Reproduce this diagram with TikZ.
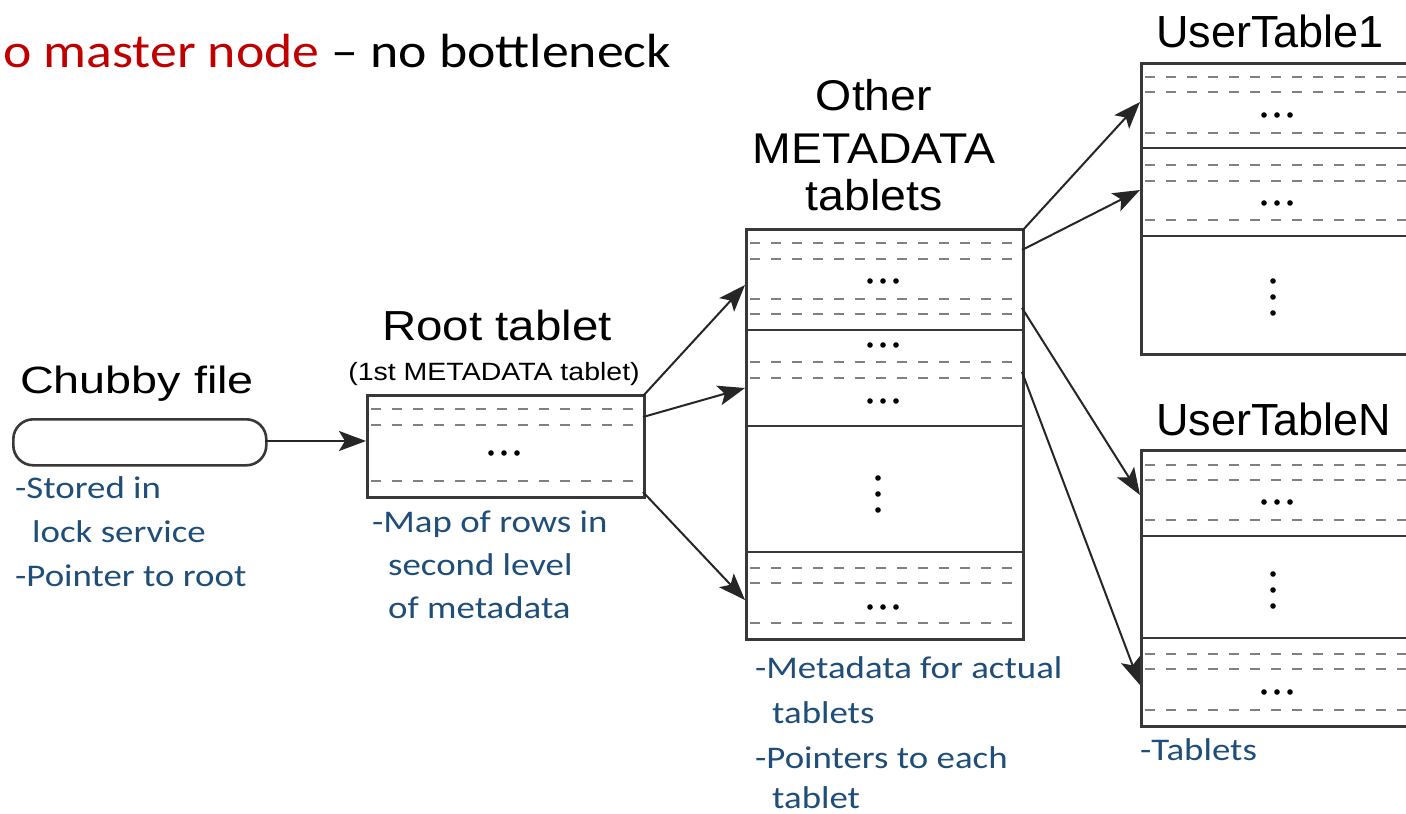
\documentclass[tikz,border=0pt]{standalone}
\usepackage{fontspec}
\setmainfont{Carlito}
\newfontfamily\helv{Liberation Sans}
\usetikzlibrary{arrows.meta}

\definecolor{noteblue}{RGB}{31,78,121}
\definecolor{slidered}{RGB}{192,0,0}
\definecolor{framegray}{gray}{0.22}
\definecolor{rowgray}{gray}{0.5}

% horizontally widened text
\newcommand\wx[2]{\scalebox{#1}[1]{#2}}
% three dots in a row / in a column
\newcommand\rowdots[2]{\foreach \d in {-13,0,13} \fill (#1+\d,#2) circle (2.8);}
\newcommand\coldots[2]{\foreach \d in {-16,0,16} \fill (#1,#2+\d) circle (2.8);}

\tikzset{
  tbl/.style={draw=framegray, line width=2.6pt, fill=white, rectangle, inner sep=0pt, anchor=north west},
  sep/.style={draw=framegray, line width=2.6pt},
  row/.style={draw=rowgray, line width=2.6pt, dash pattern=on 10pt off 11pt},
  ptr/.style={-{Stealth[length=27pt,width=20pt,inset=6pt]}, line width=2pt, draw=black!85},
  label/.style={inner sep=0pt, anchor=base, font=\helv},
  note/.style={inner sep=0pt, anchor=base west, text=noteblue, font=\fontsize{31.5}{31.5}\selectfont},
}

\begin{document}
\begin{tikzpicture}[x=1pt, y=-1pt]
\useasboundingbox (0,0) rectangle (1406,814);
\fill[white] (0,0) rectangle (1406,814);
\clip (0,0) rectangle (1406,814);

% slide heading
\node[inner sep=0pt, anchor=base west] (heading) at (3,67)
  {\wx{1.12}{\fontsize{48}{48}\selectfont\textcolor{slidered}{o master node} – no bottleneck}};

% ---- Chubby file ----
\node[label] (chubbylbl) at (137,393) {\wx{1.23}{\fontsize{38}{38}\selectfont Chubby file}};
\node[tbl, rounded corners=20pt, minimum width=253pt, minimum height=46pt] (chubby) at (12,418) {};

% ---- Root tablet ----
\node[label] (rootlbl) at (497,340) {\wx{1.13}{\fontsize{42}{42}\selectfont Root tablet}};
\node[label] (rootsub) at (494,380) {\wx{1.14}{\fontsize{25}{25}\selectfont (1st METADATA tablet)}};
\node[tbl, minimum width=277pt, minimum height=102pt] (root) at (366,394) {};
\foreach \y in {409,425,481} \draw[row] (371,\y) -- (640,\y);
\rowdots{504}{453}

% ---- Other METADATA tablets ----
\node[label] (metalbl1) at (874,110) {\wx{1.08}{\fontsize{43}{43}\selectfont Other}};
\node[label] (metalbl2) at (874,163) {\wx{1.08}{\fontsize{43}{43}\selectfont METADATA}};
\node[label] (metalbl3) at (874,210) {\wx{1.08}{\fontsize{43}{43}\selectfont tablets}};
\node[tbl, minimum width=277pt, minimum height=410pt] (meta) at (745,228) {};
\foreach \y in {330,426,552} \draw[sep] (745,\y) -- (1022,\y);
\foreach \y in {243,259,299,314,362,378,568,583,623} \draw[row] (750,\y) -- (1019,\y);
\rowdots{883}{281}
\rowdots{883}{345}
\rowdots{883}{401}
\rowdots{883}{607}
\coldots{878}{494}

% ---- UserTable1 ----
\node[label, anchor=base west] (ut1lbl) at (1156,47) {\fontsize{45}{45}\selectfont UserTable1};
\node[tbl, minimum width=290pt, minimum height=291pt] (ut1) at (1140,62) {};
\foreach \y in {148,236} \draw[sep] (1140,\y) -- (1430,\y);
\foreach \y in {77,92,133,165,181,220} \draw[row] (1145,\y) -- (1430,\y);
\rowdots{1277}{115}
\rowdots{1277}{203}
\coldots{1273}{297}

% ---- UserTableN ----
\node[label, anchor=base west] (utnlbl) at (1156,435) {\fontsize{45}{45}\selectfont UserTableN};
\node[tbl, minimum width=290pt, minimum height=276pt] (utn) at (1140,449) {};
\foreach \y in {536,638} \draw[sep] (1140,\y) -- (1430,\y);
\foreach \y in {465,480,520,654,669,710} \draw[row] (1145,\y) -- (1430,\y);
\rowdots{1277}{502}
\rowdots{1277}{692}
\coldots{1273}{590}

% ---- connector end points on the table edges ----
\coordinate (chubbyout) at (265,441);
\coordinate (rootin)    at (366,441);
\coordinate (rootoutA)  at (643,396);
\coordinate (rootoutB)  at (643,417);
\coordinate (rootoutC)  at (643,492);
\coordinate (metainA)   at (745,285);
\coordinate (metainB)   at (745,388);
\coordinate (metainC)   at (745,600);
\coordinate (metaoutA)  at (1022,231);
\coordinate (metaoutB)  at (1022,250);
\coordinate (metaoutC)  at (1022,308);
\coordinate (metaoutD)  at (1022,372);
\coordinate (ut1inA)    at (1140,102);
\coordinate (ut1inB)    at (1140,190);
\coordinate (utninA)    at (1140,495);
\coordinate (utninB)    at (1140,685);

\draw[ptr] (chubbyout) -- (rootin);
\draw[ptr] (rootoutA) -- (metainA);
\draw[ptr] (rootoutB) -- (metainB);
\draw[ptr] (rootoutC) -- (metainC);
\draw[ptr] (metaoutA) -- (ut1inA);
\draw[ptr] (metaoutB) -- (ut1inB);
\draw[ptr] (metaoutC) -- (utninA);
\draw[ptr] (metaoutD) -- (utninB);

% ---- notes ----
\node[note] (chubbyn1) at (15,498)  {\wx{1.17}{-Stored in}};
\node[note] (chubbyn2) at (32,542)  {\wx{1.17}{lock service}};
\node[note] (chubbyn3) at (15,586)  {\wx{1.17}{-Pointer to root}};

\node[note] (rootn1) at (372,532) {\wx{1.17}{-Map of rows in}};
\node[note] (rootn2) at (388,575) {\wx{1.17}{second level}};
\node[note] (rootn3) at (388,618) {\wx{1.17}{of metadata}};

\node[note] (metan1) at (755,678) {\wx{1.17}{-Metadata for actual}};
\node[note] (metan2) at (772,723) {\wx{1.17}{tablets}};
\node[note] (metan3) at (755,768) {\wx{1.17}{-Pointers to each}};
\node[note] (metan4) at (772,808) {\wx{1.17}{tablet}};

\node[note] (utnote) at (1140,760) {\wx{1.17}{-Tablets}};
\end{tikzpicture}
\end{document}
